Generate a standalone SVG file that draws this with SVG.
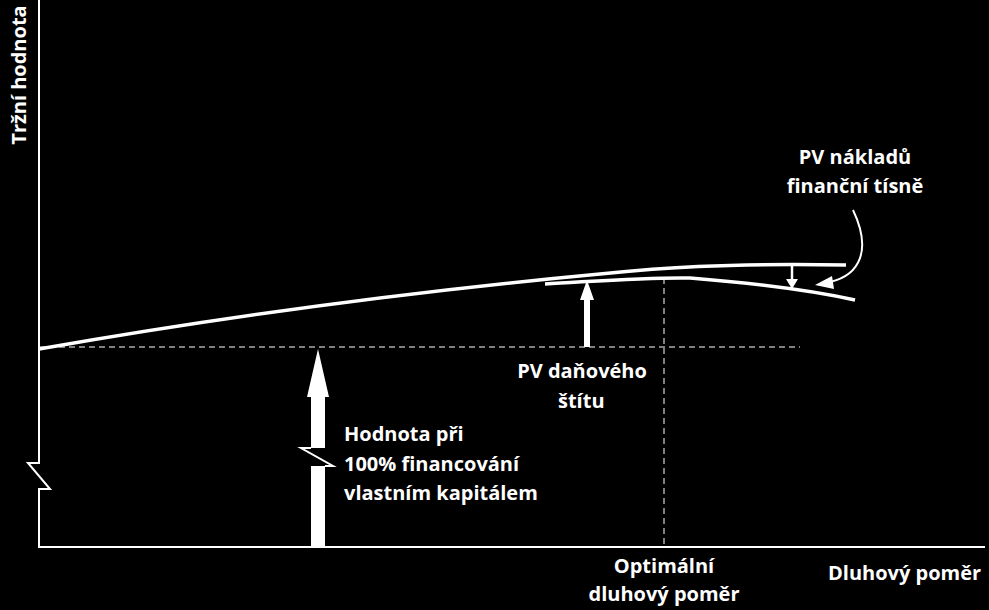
<svg xmlns="http://www.w3.org/2000/svg" width="989" height="610" viewBox="0 0 989 610">
<style>
text{font-family:"Open Sans","Liberation Sans",sans-serif;font-weight:bold;font-size:20px;fill:#fff}
.l{fill:none;stroke:#fff;stroke-width:2}
.c{fill:none;stroke:#fff;stroke-width:3.5}
.d{fill:none;stroke:#fff;stroke-width:1;stroke-dasharray:6,4}
</style>
<rect width="989" height="610" fill="#000"/>
<g id="axes">
<polyline class="l" points="39,0 39,463 28,463 50,489 39,489 39,547 985,547"/>
<text transform="translate(26,75) rotate(-90)" text-anchor="middle">Tržní hodnota</text>
<text x="828" y="580">Dluhový poměr</text>
</g>
<g id="connectors">
<line class="d" x1="39" y1="347" x2="800" y2="347"/>
<line class="d" x1="664" y1="278" x2="664" y2="547"/>
<path class="c" d="M39,349 C250,312 450,288 600,274 C660,268 720,263 846,265"/>
<path class="c" d="M545,284 C600,281 650,277 690,278 C740,282 800,288 855,300"/>
<path class="l" d="M853,210 C872,250 860,275 830,282"/>
<polygon fill="#fff" points="815,285 832,276 834,289"/>
</g>
<g id="equity-arrow">
<polygon fill="#fff" points="318,349 329,397 325,397 325,448 311,448 311,397 307,397"/>
<rect x="311" y="466" width="14" height="81" fill="#fff"/>
<polyline class="l" points="311,448 301,448 333,466 325,466"/>
<text x="344" y="441">Hodnota při</text>
<text x="344" y="471">100% financování</text>
<text x="344" y="500">vlastním kapitálem</text>
</g>
<g id="tax-shield">
<polygon fill="#fff" points="587,280 594,300 590,300 590,347 584,347 584,300 580,300"/>
<text x="582" y="378" text-anchor="middle">PV daňového</text>
<text x="558" y="408">štítu</text>
</g>
<g id="distress">
<line x1="792" y1="266" x2="792" y2="280" stroke="#fff" stroke-width="2.5"/>
<polygon fill="#fff" points="792,289 786,279 798,279"/>
<text x="855" y="164" text-anchor="middle">PV nákladů</text>
<text x="855" y="193" text-anchor="middle">finanční tísně</text>
</g>
<g id="optimal">
<text x="664" y="573" text-anchor="middle">Optimální</text>
<text x="664" y="601" text-anchor="middle">dluhový poměr</text>
</g>
</svg>
